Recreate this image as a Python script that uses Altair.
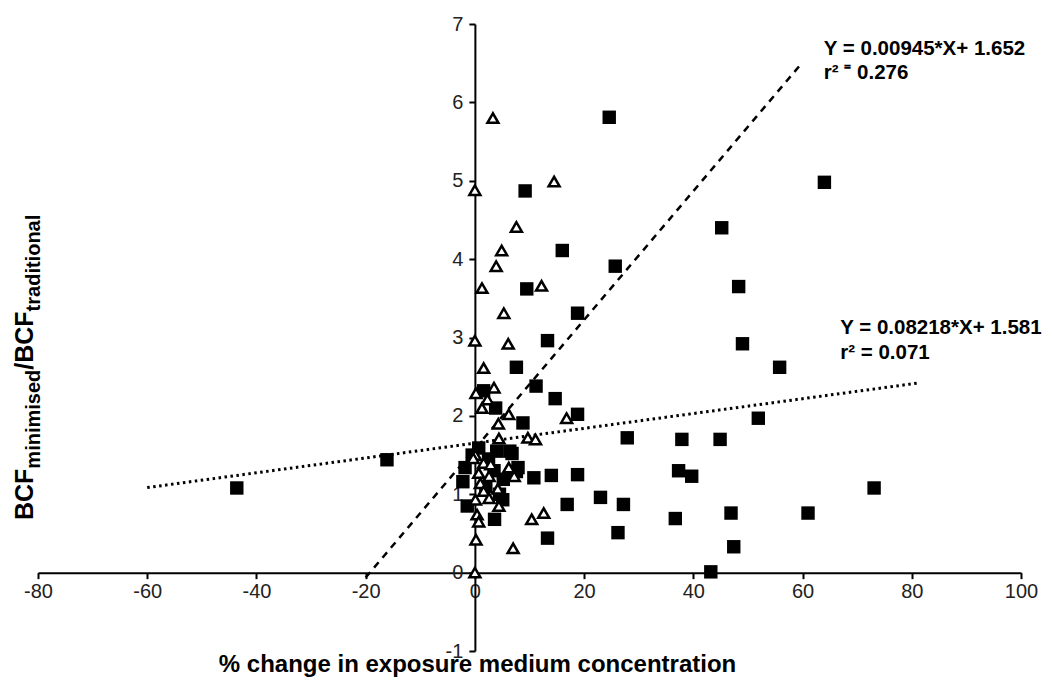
import altair as alt
import pandas as pd

# ---------------- data ----------------
# filled squares
sq_x = [-43.6, -16.1, 24.6, 64.0, 45.2, 16.0, 25.7, 48.3, 18.8, 9.2,
        9.5, 13.3, 49.0, 55.8, 11.2, 14.7, 18.8, 51.9, 27.9, 37.9,
        44.9, 14.0, 18.8, 37.3, 39.7, 73.1, 16.9, 23.0, 27.2, 46.9,
        61.0, 36.7, 13.3, 26.2, 47.4, 43.2, 7.6, 1.6, 3.8, 8.8,
        6.8, 7.9, 10.8, -1.8, -2.2, 5.1, -1.4, 3.6, 0.7, 6.4,
        -0.5, 7.6, 5.2, 2.5, 3.5, 4.0, 2.0, 4.5]
sq_y = [1.08, 1.44, 5.81, 4.98, 4.40, 4.11, 3.91, 3.65, 3.31, 4.87,
        3.62, 2.96, 2.92, 2.62, 2.38, 2.22, 2.02, 1.97, 1.72, 1.70,
        1.70, 1.24, 1.25, 1.30, 1.23, 1.08, 0.87, 0.96, 0.87, 0.76,
        0.76, 0.69, 0.44, 0.51, 0.33, 0.01, 2.62, 2.32, 2.10, 1.91,
        1.52, 1.34, 1.21, 1.34, 1.16, 0.93, 0.85, 0.68, 1.59, 1.55,
        1.50, 1.29, 1.19, 1.45, 1.30, 1.55, 1.10, 1.00]

# open triangles
tri_x = [3.3, 0.0, 14.5, 7.6, 4.9, 3.9, 1.3, 12.2, 5.3, 0.0,
         6.1, 1.6, 3.5, 0.2, 2.3, 1.3, 6.2, 4.3, 4.4, 9.7,
         11.1, 16.8, 0.1, 1.6, 2.9, 6.2, 0.7, 2.6, 7.2, 1.0,
         1.6, 4.2, 2.6, 4.4, 0.1, 0.4, 0.7, 10.4, 12.6, 0.2,
         7.0, 0.0, -0.3]
tri_y = [5.80, 4.88, 4.99, 4.41, 4.11, 3.91, 3.63, 3.66, 3.31, 2.96,
         2.92, 2.61, 2.36, 2.29, 2.21, 2.10, 2.02, 1.90, 1.71, 1.72,
         1.70, 1.97, 1.50, 1.40, 1.38, 1.34, 1.27, 1.23, 1.23, 1.14,
         1.04, 1.07, 0.95, 0.85, 0.93, 0.74, 0.65, 0.68, 0.76, 0.42,
         0.31, 0.00, 1.46]

# regression lines as printed on the chart
steep_slope, steep_icpt = 0.08218, 1.581
steep_x = [-20, 60]
flat_slope, flat_icpt = 0.00945, 1.652
flat_x = [-60, 81]

x_ticks = [-80, -60, -40, -20, 0, 20, 40, 60, 80, 100]
y_ticks = [-1, 0, 1, 2, 3, 4, 5, 6, 7]

ann_text = ["Y = 0.00945*X+ 1.652", "r\u00b2 \u207c 0.276",
            "Y = 0.08218*X+ 1.581", "r\u00b2 = 0.071"]
ann_x = [63.9, 63.9, 66.9, 66.9]
ann_y = [6.61, 6.30, 3.04, 2.73]

x_title = "% change in exposure medium concentration"
y_title_parts = ["BCF", "minimised", "/BCF", "traditional"]
y_title_sub = [False, True, False, True]

# ---------------- layout ----------------
W, H = 983, 627
FONT = "Liberation Sans"
X_DOM = [-80, 100]
Y_DOM = [-1, 7]

xscale = alt.Scale(domain=X_DOM, nice=False, zero=False)
yscale = alt.Scale(domain=Y_DOM, nice=False, zero=False)

x_off = -H * (0 - Y_DOM[0]) / (Y_DOM[1] - Y_DOM[0])
y_off = -W * (0 - X_DOM[0]) / (X_DOM[1] - X_DOM[0])

LABEL_EXPR = "datum.value < 0 ? '-' + abs(datum.value) : '' + datum.value"

common_axis = dict(domainColor="black", domainWidth=2, tickColor="black",
                   tickWidth=2, tickSize=6, grid=False, labelFont=FONT,
                   labelFontSize=20, labelColor="#222", labelFlush=False,
                   labelOverlap=False, labelExpr=LABEL_EXPR)

x_axis = alt.Axis(values=x_ticks, offset=x_off, labelPadding=3,
                  title=x_title, titleFont=FONT, titleFontSize=24,
                  titleFontWeight="bold", titleColor="black",
                  titleX=439, titleY=99, titleBaseline="alphabetic",
                  **common_axis)
y_axis = alt.Axis(values=y_ticks, offset=y_off, labelPadding=6, title=None,
                  **common_axis)


def X():
    return alt.X("x:Q", scale=xscale, axis=x_axis)


def Y():
    return alt.Y("y:Q", scale=yscale, axis=y_axis)


sq_df = pd.DataFrame({"x": sq_x, "y": sq_y})
tri_df = pd.DataFrame({"x": tri_x, "y": tri_y})
steep_df = pd.DataFrame({"x": steep_x,
                         "y": [steep_slope * v + steep_icpt for v in steep_x]})
flat_df = pd.DataFrame({"x": flat_x,
                        "y": [flat_slope * v + flat_icpt for v in flat_x]})
ann_df = pd.DataFrame({"x": ann_x, "y": ann_y, "t": ann_text})

squares = alt.Chart(sq_df).mark_point(
    shape="square", filled=True, color="black", size=180, opacity=1
).encode(x=X(), y=Y())

triangles = alt.Chart(tri_df).mark_point(
    shape="triangle-up", filled=True, fill="white", stroke="black",
    strokeWidth=2.5, size=120, opacity=1
).encode(x=X(), y=Y())

steep = alt.Chart(steep_df).mark_line(
    color="black", strokeWidth=2.5, strokeDash=[7, 6]
).encode(x=X(), y=Y())

flat = alt.Chart(flat_df).mark_line(
    color="black", strokeWidth=3, strokeDash=[2.5, 3.5]
).encode(x=X(), y=Y())

ann = alt.Chart(ann_df).mark_text(
    align="left", baseline="alphabetic", font=FONT, fontSize=20.5,
    fontWeight="bold", color="black"
).encode(x=X(), y=Y(), text="t:N")

# y-axis title with subscripts, built from rotated text pieces
BOLD_W = {"B": .722, "C": .722, "F": .611, "m": .889, "i": .278, "n": .611,
          "s": .556, "e": .556, "d": .611, "/": .278, "t": .333, "r": .389,
          "a": .556, "o": .611, "l": .278}
BIG, SMALL = 25, 20
big_base_x, sub_base_x = -5, 2
pieces = []
cur = 496
for txt, sub in zip(y_title_parts, y_title_sub):
    fs = SMALL if sub else BIG
    pieces.append(
        alt.Chart(pd.DataFrame({"t": [txt]})).mark_text(
            angle=270, align="left", baseline="alphabetic", font=FONT,
            fontSize=fs, fontWeight="bold", color="black"
        ).encode(x=alt.value(sub_base_x if sub else big_base_x),
                 y=alt.value(cur), text="t:N")
    )
    cur -= sum(BOLD_W.get(c, .6) for c in txt) * fs

chart = alt.layer(steep, flat, squares, triangles, ann, *pieces).properties(
    width=W, height=H,
    padding={"left": 30, "top": 16, "right": 23, "bottom": 28},
    autosize=alt.AutoSizeParams(type="none"),
).configure(background="white").configure_view(stroke=None, strokeWidth=0)

chart.save("out.html", embed_options={"renderer": "svg", "actions": False})
